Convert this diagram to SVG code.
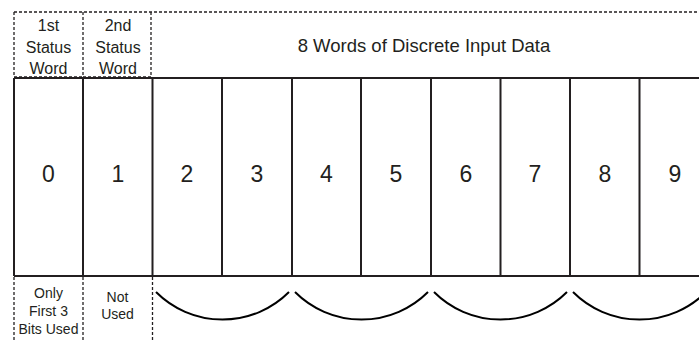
<svg xmlns="http://www.w3.org/2000/svg" width="699" height="342" viewBox="0 0 699 342">
<style>
.dash{fill:none;stroke:#231f20;stroke-width:1.3;stroke-dasharray:3 2}
.solid{fill:none;stroke:#231f20;stroke-width:2}
.arc{fill:none;stroke:#000;stroke-width:2}
text{font-family:"Liberation Sans",Arial,sans-serif;fill:#231f20;text-anchor:middle}
.s{font-size:16px}
.b{font-size:14px}
.h{font-size:18.5px}
.n{font-size:23px}
</style>
<rect width="699" height="342" fill="#fff"/>
<g id="header-status1">
<path class="dash" d="M14 12V77H83"/>
<text class="s" x="48.5" y="31">1st</text>
<text class="s" x="48.5" y="52.5">Status</text>
<text class="s" x="48.5" y="74">Word</text>
</g>
<g id="header-status2">
<path class="dash" d="M83 12V77H151"/>
<text class="s" x="118" y="31">2nd</text>
<text class="s" x="118" y="52.5">Status</text>
<text class="s" x="118" y="74">Word</text>
</g>
<g id="header-data">
<path class="dash" d="M14 12H699M151 12V77"/>
<text class="h" x="424" y="52">8 Words of Discrete Input Data</text>
</g>
<g id="words">
<path class="solid" d="M14 78H699M14 276H699M14 78V276M83 78V276M152.5 78V276M222 78V276M292 78V276M361 78V276M431 78V276M500.5 78V276M570 78V276M639.5 78V276"/>
</g>
<g id="w0"><text class="n" x="48.5" y="182">0</text></g>
<g id="w1"><text class="n" x="118" y="182">1</text></g>
<g id="w2"><text class="n" x="187" y="182">2</text></g>
<g id="w3"><text class="n" x="257" y="182">3</text></g>
<g id="w4"><text class="n" x="326.5" y="182">4</text></g>
<g id="w5"><text class="n" x="396" y="182">5</text></g>
<g id="w6"><text class="n" x="466" y="182">6</text></g>
<g id="w7"><text class="n" x="535" y="182">7</text></g>
<g id="w8"><text class="n" x="605" y="182">8</text></g>
<g id="w9"><text class="n" x="675" y="182">9</text></g>
<g id="note0">
<path class="dash" d="M14 277V342M83 277V342"/>
<text class="b" x="48.5" y="297.5">Only</text>
<text class="b" x="48.5" y="315.5">First 3</text>
<text class="b" x="48.5" y="334">Bits Used</text>
</g>
<g id="note1">
<path class="dash" d="M152.5 277V342"/>
<text class="b" x="117.5" y="302">Not</text>
<text class="b" x="117.5" y="319">Used</text>
</g>
<g id="connectors">
<path class="arc" d="M156 292A94 94 0 0 0 289 292"/>
<path class="arc" d="M295 292A94 94 0 0 0 428 292"/>
<path class="arc" d="M434 292A94 94 0 0 0 567 292"/>
<path class="arc" d="M573 292A94 94 0 0 0 706 292"/>
</g>
</svg>
